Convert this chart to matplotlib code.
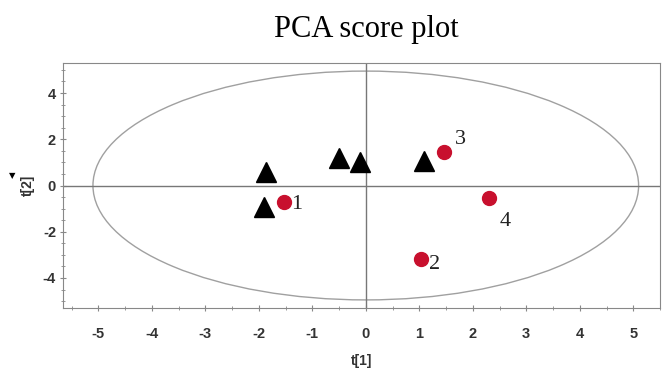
import matplotlib.pyplot as plt
from matplotlib.patches import Ellipse
from matplotlib.ticker import MultipleLocator

plt.rcParams['axes.unicode_minus'] = False

# 三角形样本
tri_x = [-1.86, -1.9, -0.5, -0.1, 1.08]
tri_y = [0.6, -0.95, 1.2, 1.0, 1.05]

# 红色圆点样本
dot_x = [-1.53, 1.04, 1.47, 2.31]
dot_y = [-0.7, -3.16, 1.43, -0.52]
dot_labels = ['1', '2', '3', '4']
label_dx = [0.13, 0.15, 0.19, 0.2]
label_dy = [-0.12, -0.26, 0.56, -1.04]

# 椭圆 (Hotelling T2)
ell_w, ell_h = 10.2, 9.9

fig = plt.figure(figsize=(6.65, 3.7), dpi=100)
ax = fig.add_axes([63 / 665, 1 - 308 / 370, 597 / 665, 245 / 370])

ax.add_patch(Ellipse((0, 0), ell_w, ell_h, fill=False, ec='#a0a0a0', lw=1.0))
ax.axhline(0, color='#777777', lw=1.0)
ax.axvline(0, color='#777777', lw=1.0)

ax.plot(tri_x, tri_y, '^', color='black', ms=14, ls='none')
ax.plot(dot_x, dot_y, 'o', color='#c8102e', ms=10, ls='none')
for x, y, t, dx, dy in zip(dot_x, dot_y, dot_labels, label_dx, label_dy):
    ax.text(x + dx, y + dy, t, fontsize=16, family='Liberation Serif',
            color='#222222', va='center', ha='left')

ax.set_xlim(-5.66, 5.5)
ax.set_ylim(-5.3, 5.3)
ax.xaxis.set_major_locator(MultipleLocator(1))
ax.xaxis.set_minor_locator(MultipleLocator(0.5))
ax.yaxis.set_major_locator(MultipleLocator(2))
ax.yaxis.set_minor_locator(MultipleLocator(0.5))
ax.tick_params(which='both', direction='inout', color='#888888', length=4,
               labelsize=10.5, labelcolor='#333333')
ax.tick_params(axis='x', pad=12)
ax.tick_params(axis='y', pad=3)
ax.tick_params(which='minor', length=3)
for lbl in ax.get_xticklabels() + ax.get_yticklabels():
    lbl.set_fontfamily('Liberation Sans')
    lbl.set_fontweight('bold')
for s in ax.spines.values():
    s.set_color('#888888')

ax.set_xlabel('t[1]', fontsize=10, color='#333333', fontweight='bold',
              family='Liberation Sans', labelpad=9)
ax.set_ylabel('t[2]', fontsize=10, color='#333333', fontweight='bold',
              family='Liberation Sans', labelpad=6)
fig.text(12 / 665, 1 - 176 / 370, '\u25bc', fontsize=6, ha='center', va='center')

fig.text(366 / 665, 1 - 30 / 370, 'PCA score plot', fontsize=22,
         family='Liberation Serif', ha='center', va='center')

fig.savefig('out.png', dpi=100)
